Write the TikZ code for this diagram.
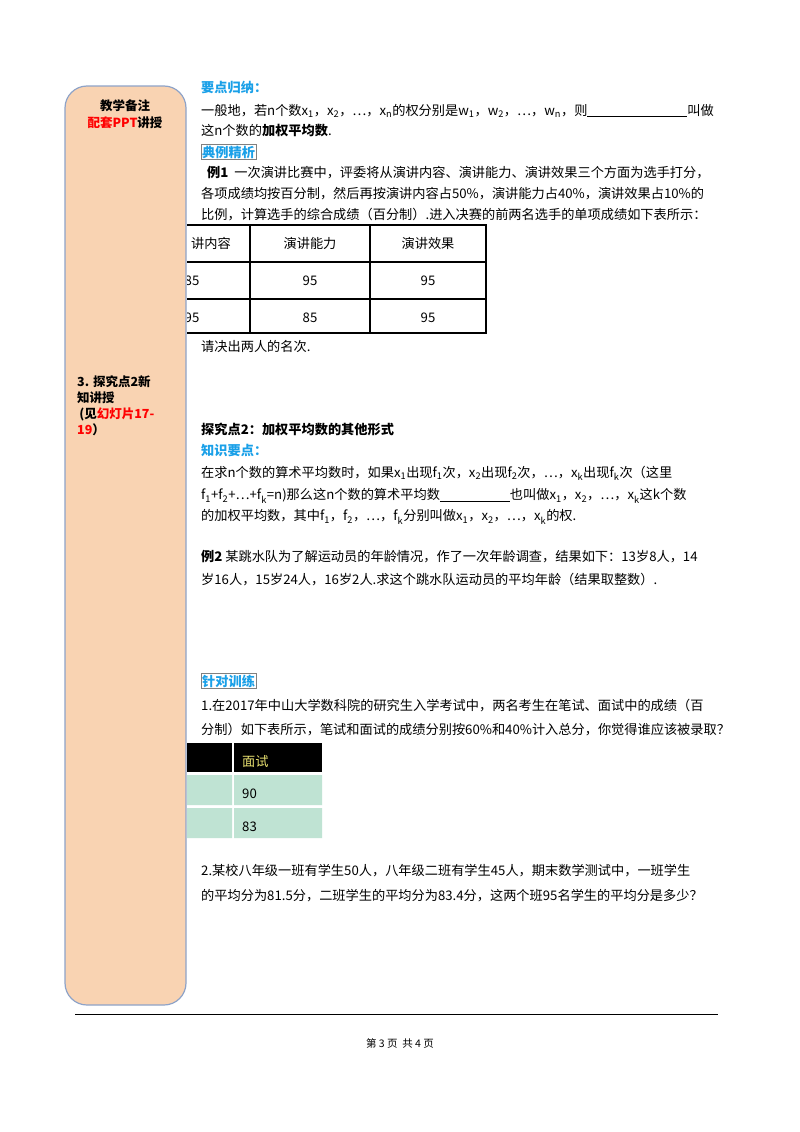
\documentclass[tikz,border=0pt]{standalone}
\usepackage{fontspec}
\setmainfont{Noto Sans CJK SC}
\newcommand{\sbx}[1]{\textsubscript{#1}}
\definecolor{peach}{HTML}{F9D3B2}
\definecolor{sideb}{HTML}{8EA3C8}
\definecolor{cyanh}{HTML}{1AA0E8}
\definecolor{teal2}{HTML}{BFE3D3}
\definecolor{hdry}{HTML}{E8E070}
\begin{document}
\begin{tikzpicture}[x=1pt,y=-1pt,
  txt/.style={anchor=west,inner sep=0pt,font=\fontsize{13.2}{15}\selectfont},
  head/.style={txt,text=cyanh,font=\fontsize{13.2}{15}\selectfont\bfseries},
  side/.style={anchor=west,inner sep=0pt,font=\fontsize{12.5}{15}\selectfont\bfseries},
  cell/.style={inner sep=0pt,font=\fontsize{13.2}{15}\selectfont}]
\useasboundingbox (0,0) rectangle (800,1132);
\fill[white] (0,0) rectangle (800,1132);
% sidebar
\draw[sideb,fill=peach,line width=1.2pt,rounded corners=22pt] (65,1005) -- (65,86) -- (186,86) -- (186,1005) -- cycle;
\node[side,anchor=center] (s1) at (125,106) {教学备注};
\node[side,anchor=center] (s2) at (125,123) {\textcolor{red}{配套PPT}讲授};
\node[side] (s3) at (77,382) {3. 探究点2新};
\node[side] (s4) at (77,398) {知讲授};
\node[side] (s5) at (77,414) {\,(见\textcolor{red}{幻灯片17-}};
\node[side] (s6) at (77,430) {\textcolor{red}{19}）};
% section 1
\node[head] (h1) at (201,88) {要点归纳：};
\node[txt] (l1) at (201,111) {一般地，若n个数x\sbx1，x\sbx2，…，x\sbx n的权分别是w\sbx1，w\sbx2，…，w\sbx n，则\underline{\hspace{100pt}}叫做};
\node[txt] (l2) at (201,131) {这n个数的\textbf{加权平均数}.};
\node[head,draw=gray,inner sep=1pt] (h2) at (201,152) {典例精析};
\node[txt] (e1) at (207,173) {\textbf{例1}\ \ 一次演讲比赛中，评委将从演讲内容、演讲能力、演讲效果三个方面为选手打分，};
\node[txt] (e2) at (201,194) {各项成绩均按百分制，然后再按演讲内容占50\%，演讲能力占40\%，演讲效果占10\%的};
\node[txt] (e3) at (201,215) {比例，计算选手的综合成绩（百分制）.进入决赛的前两名选手的单项成绩如下表所示：};
% table 1
\draw[line width=1.4pt] (187,225) -- (486,225) -- (486,333) -- (187,333)
  (187,262) -- (486,262) (187,299) -- (486,299) (250,225) -- (250,333) (370,225) -- (370,333);
\begin{scope}
\clip (187,220) rectangle (250,340);
\node[cell] (c11) at (211,243) {讲内容};
\node[cell] (c21) at (192,281) {85};
\node[cell] (c31) at (192,318) {95};
\end{scope}
\node[cell] (c12) at (310,243) {演讲能力};
\node[cell] (c13) at (428,243) {演讲效果};
\node[cell] (c22) at (310,281) {95};
\node[cell] (c23) at (428,281) {95};
\node[cell] (c32) at (310,318) {85};
\node[cell] (c33) at (428,318) {95};
\node[txt] (q1) at (201,346) {请决出两人的名次.};
% section 2
\node[txt,font=\fontsize{13.2}{15}\selectfont\bfseries] (h3) at (201,429) {探究点2：加权平均数的其他形式};
\node[head] (h4) at (201,450) {知识要点：};
\node[txt] (k1) at (201,473) {在求n个数的算术平均数时，如果x\sbx1出现f\sbx1次，x\sbx2出现f\sbx2次，…，x\sbx k出现f\sbx k次（这里};
\node[txt] (k2) at (201,496) {f\sbx1+f\sbx2+…+f\sbx k=n)那么这n个数的算术平均数\underline{\hspace{70pt}}也叫做x\sbx1，x\sbx2，…，x\sbx k这k个数};
\node[txt] (k3) at (201,517) {的加权平均数，其中f\sbx1，f\sbx2，…，f\sbx k分别叫做x\sbx1，x\sbx2，…，x\sbx k的权.};
\node[txt] (x1) at (201,557) {\textbf{例2}\ 某跳水队为了解运动员的年龄情况，作了一次年龄调查，结果如下：13岁8人，14};
\node[txt] (x2) at (201,580) {岁16人，15岁24人，16岁2人.求这个跳水队运动员的平均年龄（结果取整数）.};
% section 3
\node[head,draw=gray,inner sep=1pt] (h5) at (201,681) {针对训练};
\node[txt] (t1) at (201,706) {1.在2017年中山大学数科院的研究生入学考试中，两名考生在笔试、面试中的成绩（百};
\node[txt] (t2) at (201,730) {分制）如下表所示，笔试和面试的成绩分别按60\%和40\%计入总分，你觉得谁应该被录取？};
\fill[black] (187,743) rectangle (232,772);
\fill[black] (234,743) rectangle (322,772);
\fill[teal2] (187,775) rectangle (232,805) (234,775) rectangle (322,805)
  (187,808) rectangle (232,838) (234,808) rectangle (322,838);
\node[cell,anchor=west,text=hdry] (d1) at (242,762) {面试};
\node[cell,anchor=west] (d2) at (242,794) {90};
\node[cell,anchor=west] (d3) at (242,827) {83};
\node[txt] (p1) at (201,871) {2.某校八年级一班有学生50人，八年级二班有学生45人，期末数学测试中，一班学生};
\node[txt] (p2) at (201,896) {的平均分为81.5分，二班学生的平均分为83.4分，这两个班95名学生的平均分是多少？};
% footer
\draw[line width=0.8pt] (75,1014) -- (718,1014);
\node[cell,font=\fontsize{10.5}{12}\selectfont] (ft) at (400,1043) {第\ 3\ 页\ \ 共\ 4\ 页};
\end{tikzpicture}
\end{document}
